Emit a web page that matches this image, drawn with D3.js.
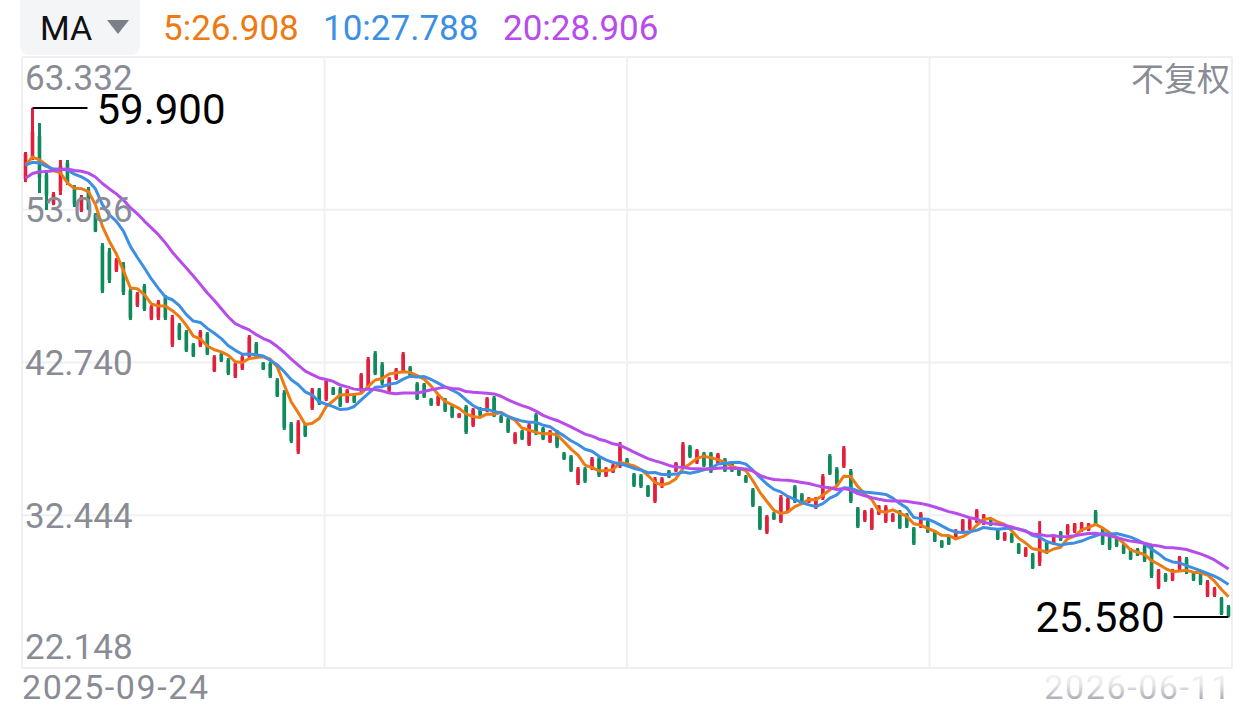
<!DOCTYPE html>
<html>
<head>
<meta charset="utf-8">
<script src="https://cdn.jsdelivr.net/npm/d3@7"></script>
<style>
  body { margin: 0; background: #fff; }
  svg { display: block; }
</style>
</head>
<body>
<div id="chart"></div>
<script>
// first and last date shown under the chart
var dateLabels = ["2025-09-24", "2026-06-11"];

// closes before the first visible candle (only used to seed the moving averages)
var prevClose = [52.1, 52.8, 53.5, 53.2, 54.0, 54.6, 55.3, 54.9, 55.7, 56.8,
  56.4, 55.6, 56.3, 55.9, 56.05, 55.5, 56.2, 55.7, 55.95];

var open = [55.10, 56.60, 58.00, 55.40, 53.45, 54.30, 56.20, 54.50, 53.00, 54.40,
  52.70, 50.60, 50.20, 48.95, 49.30, 47.60, 46.60, 47.90, 45.70, 45.75,
  47.10, 43.95, 45.25, 44.80, 43.95, 43.90, 44.65, 42.20, 43.30, 42.90,
  41.80, 42.35, 43.15, 44.00, 42.70, 42.65, 41.55, 40.70, 38.60, 36.75,
  38.55, 39.65, 40.90, 40.25, 41.00, 40.95, 40.10, 40.60, 40.80, 41.15,
  43.35, 42.60, 40.85, 41.65, 42.15, 42.40, 41.30, 41.25, 40.25, 39.90,
  40.25, 39.80, 39.05, 39.75, 38.50, 39.65, 39.50, 40.35, 39.10, 38.90,
  37.35, 38.10, 37.20, 39.20, 38.30, 37.40, 38.05, 36.60, 36.40, 34.60,
  35.55, 35.60, 36.25, 35.10, 35.35, 35.75, 36.20, 35.20, 35.10, 34.40,
  33.40, 34.40, 35.40, 35.45, 35.75, 37.05, 36.00, 36.60, 36.60, 35.95,
  36.20, 36.00, 35.60, 35.05, 34.15, 32.95, 31.30, 32.55, 32.05, 32.70,
  34.35, 33.85, 33.33, 32.95, 33.60, 36.45, 35.55, 35.75, 35.40, 32.90,
  32.10, 31.55, 32.55, 32.05, 32.05, 32.70, 32.50, 31.55, 31.70, 32.05,
  31.35, 30.70, 31.00, 30.85, 31.40, 31.55, 32.00, 31.90, 32.10, 31.50,
  30.80, 31.15, 30.50, 29.70, 29.80, 29.30, 30.60, 30.50, 31.30, 31.20,
  31.35, 31.40, 31.45, 32.65, 31.55, 31.00, 30.85, 30.45, 30.15, 30.15,
  30.35, 30.30, 27.60, 28.45, 28.10, 28.85, 29.50, 28.55, 28.45, 27.05,
  27.05, 26.85, 26.30];

var high = [56.93, 59.90, 58.88, 55.71, 54.23, 56.39, 56.39, 54.70, 54.03, 54.57,
  52.81, 50.79, 50.46, 49.78, 49.51, 47.76, 47.49, 48.03, 46.61, 46.95,
  47.29, 45.94, 45.40, 44.93, 44.05, 44.93, 44.79, 43.24, 43.38, 43.04,
  42.77, 43.24, 44.59, 44.12, 42.77, 42.77, 41.69, 40.88, 38.73, 38.86,
  38.66, 41.02, 41.02, 41.63, 41.09, 41.09, 40.95, 40.68, 42.03, 43.11,
  43.51, 42.77, 41.76, 42.37, 43.45, 42.50, 41.42, 41.36, 40.35, 40.55,
  40.35, 39.87, 39.33, 39.87, 39.67, 39.74, 40.41, 40.48, 39.20, 39.00,
  38.05, 38.19, 38.66, 39.33, 38.39, 38.19, 38.19, 36.71, 36.50, 35.69,
  35.69, 36.37, 36.37, 35.69, 35.90, 37.38, 36.30, 35.29, 35.22, 34.48,
  35.02, 35.02, 35.49, 36.03, 37.38, 37.18, 36.91, 36.71, 36.71, 36.64,
  36.30, 36.10, 35.69, 35.16, 34.28, 33.07, 32.46, 32.66, 33.81, 33.67,
  34.48, 33.94, 33.67, 33.67, 35.22, 36.57, 35.69, 37.11, 35.56, 33.00,
  32.80, 32.93, 33.13, 33.13, 32.59, 32.80, 32.59, 31.65, 32.66, 32.12,
  31.45, 30.77, 31.11, 31.51, 32.19, 32.19, 32.86, 32.53, 32.19, 31.58,
  31.31, 31.25, 30.57, 30.30, 29.90, 32.05, 30.70, 31.11, 31.38, 31.85,
  31.92, 31.99, 31.92, 32.80, 31.65, 31.11, 30.91, 30.51, 30.24, 30.24,
  30.44, 30.44, 28.82, 28.55, 28.82, 29.70, 29.63, 28.62, 28.55, 28.08,
  27.61, 26.93, 26.39];

var low = [54.90, 56.39, 54.16, 53.02, 53.35, 54.03, 54.70, 53.22, 52.88, 53.02,
  51.53, 47.42, 48.10, 48.84, 47.29, 45.60, 46.48, 46.21, 45.60, 45.60,
  45.60, 43.78, 44.25, 43.45, 43.11, 43.78, 43.24, 42.10, 42.77, 41.89,
  41.69, 42.23, 43.04, 43.04, 42.23, 41.69, 40.41, 38.19, 37.31, 36.57,
  37.72, 39.54, 39.87, 40.14, 40.55, 39.74, 40.01, 40.01, 40.68, 41.02,
  41.89, 41.22, 40.75, 41.56, 42.03, 41.69, 40.21, 40.35, 39.81, 39.81,
  39.40, 38.99, 38.99, 37.92, 38.39, 39.13, 39.40, 39.06, 38.66, 37.99,
  37.24, 37.51, 37.11, 37.85, 37.51, 37.31, 36.97, 36.17, 35.36, 34.48,
  34.62, 35.49, 35.02, 35.02, 35.29, 35.63, 35.69, 34.35, 34.28, 33.67,
  33.27, 34.28, 34.95, 35.36, 35.63, 36.30, 35.90, 35.69, 35.29, 35.83,
  35.36, 35.36, 35.09, 34.62, 33.00, 31.45, 31.18, 32.12, 31.92, 32.59,
  33.27, 33.27, 33.27, 32.86, 33.47, 35.16, 34.48, 35.63, 33.27, 31.58,
  31.99, 31.45, 32.46, 31.92, 31.99, 31.52, 31.58, 30.44, 31.58, 31.25,
  30.64, 30.24, 30.44, 30.77, 31.31, 31.45, 31.92, 31.79, 31.72, 30.77,
  30.71, 30.57, 29.83, 29.63, 28.82, 29.02, 29.83, 30.44, 30.71, 31.11,
  31.25, 31.31, 31.38, 31.72, 30.44, 30.10, 30.30, 29.83, 29.43, 29.70,
  29.29, 28.21, 27.47, 27.95, 28.01, 28.75, 28.48, 28.01, 27.74, 26.93,
  26.93, 25.72, 25.58];

var close = [56.80, 58.30, 55.20, 54.00, 54.10, 56.00, 54.90, 53.40, 53.90, 53.10,
  51.60, 47.60, 48.30, 49.65, 47.50, 45.75, 47.35, 46.35, 46.50, 46.80,
  45.75, 45.75, 44.35, 43.55, 43.20, 44.80, 43.35, 43.10, 42.85, 42.00,
  42.65, 43.10, 44.45, 43.15, 42.30, 41.80, 40.50, 38.35, 37.45, 38.70,
  37.80, 40.90, 40.00, 41.50, 40.60, 39.85, 40.85, 40.10, 41.90, 42.95,
  42.00, 41.35, 41.65, 42.25, 43.30, 41.80, 40.30, 40.45, 39.90, 40.45,
  39.50, 39.10, 39.28, 38.05, 39.55, 39.20, 40.30, 39.15, 38.75, 38.10,
  37.95, 37.60, 38.55, 37.95, 37.60, 38.10, 37.10, 36.25, 35.45, 35.55,
  34.75, 36.25, 35.15, 35.60, 35.80, 37.20, 35.80, 34.45, 34.40, 33.75,
  34.90, 34.90, 35.05, 35.95, 37.20, 36.40, 36.80, 35.80, 35.40, 36.55,
  35.45, 35.45, 35.15, 34.70, 33.10, 31.55, 32.35, 32.20, 33.65, 33.55,
  33.40, 33.35, 33.60, 33.55, 35.05, 35.25, 34.60, 36.95, 33.40, 31.70,
  32.70, 32.80, 33.05, 33.00, 32.50, 31.60, 31.70, 30.55, 32.55, 31.35,
  30.70, 30.30, 30.50, 31.40, 32.10, 32.10, 32.75, 32.45, 31.80, 30.85,
  31.25, 30.65, 29.90, 30.20, 28.90, 30.85, 29.90, 31.00, 30.80, 31.75,
  31.85, 31.90, 31.85, 31.80, 30.55, 30.20, 30.40, 29.90, 29.50, 29.75,
  29.40, 28.35, 28.70, 28.05, 28.70, 29.60, 28.60, 28.10, 27.85, 27.95,
  27.50, 25.80, 25.65];

var yTicks = [63.332, 53.036, 42.740, 32.444, 22.148];
var maPeriods = [5, 10, 20];
var maColors = ["#ee7a12", "#3d8fe4", "#b84cea"];
var maLabels = ["5:26.908", "10:27.788", "20:28.906"];

var svgWidth = 1256;
var svgHeight = 709;
var plot = { left: 22, right: 1232, top: 57, bottom: 668 };
var upColor = "#e3203c";
var downColor = "#0e8a5c";
var gray = "#898c95";

var svg = d3.select("#chart")
  .append("svg")
  .attr("width", svgWidth)
  .attr("height", svgHeight);

var n = close.length;
var xScale = d3.scaleBand()
  .domain(d3.range(n))
  .range([plot.left, plot.right]);
var yScale = d3.scaleLinear()
  .domain([22.148, 63.332])
  .range([plot.bottom, plot.top]);
var xc = i => xScale(i) + xScale.bandwidth() / 2;

// grid
var gridX = d3.scaleLinear().domain([0, 4]).range([plot.left, plot.right]);
svg.append("g").selectAll("line.v").data(d3.range(5)).enter()
  .append("line")
  .attr("x1", d => gridX(d)).attr("x2", d => gridX(d))
  .attr("y1", plot.top).attr("y2", plot.bottom)
  .attr("stroke", "#eff0f4").attr("stroke-width", 2);
svg.append("g").selectAll("line.h").data(yTicks).enter()
  .append("line")
  .attr("x1", plot.left).attr("x2", plot.right)
  .attr("y1", d => yScale(d)).attr("y2", d => yScale(d))
  .attr("stroke", "#eff0f4").attr("stroke-width", 2);

// candles (thin, body and wick nearly the same width at this zoom)
var candles = svg.append("g").selectAll("g").data(d3.range(n)).enter().append("g")
  .attr("fill", i => close[i] >= open[i] ? upColor : downColor)
  .attr("stroke", i => close[i] >= open[i] ? upColor : downColor);
candles.append("line")
  .attr("x1", xc).attr("x2", xc)
  .attr("y1", i => yScale(high[i])).attr("y2", i => yScale(low[i]))
  .attr("stroke-width", 3);
candles.append("rect")
  .attr("x", i => xc(i) - 1.8)
  .attr("width", 3.6)
  .attr("y", i => yScale(Math.max(open[i], close[i])))
  .attr("height", i => Math.max(1, Math.abs(yScale(open[i]) - yScale(close[i]))))
  .attr("stroke", "none");

// moving averages
var allClose = prevClose.concat(close);
var offset = prevClose.length;
maPeriods.forEach(function(p, k) {
  var ma = d3.range(n).map(function(i) {
    return d3.mean(allClose.slice(offset + i - p + 1, offset + i + 1));
  });
  svg.append("path")
    .datum(ma)
    .attr("fill", "none")
    .attr("stroke", maColors[k])
    .attr("stroke-width", 3)
    .attr("stroke-linejoin", "round")
    .attr("d", d3.line().x((d, i) => xc(i)).y(d => yScale(d)));
});

// y labels
svg.append("g").selectAll("text").data(yTicks).enter()
  .append("text")
  .attr("x", 25)
  .attr("y", function(d, i) {
    if (i === 0) return yScale(d) + 33;
    if (i === yTicks.length - 1) return yScale(d) - 9;
    return yScale(d) + 12.5;
  })
  .attr("fill", gray)
  .attr("font-family", "Roboto, sans-serif")
  .attr("font-size", 35)
  .text(d => d.toFixed(3));

// max / min markers
var iMax = d3.maxIndex(high);
var iMin = d3.minIndex(low);
svg.append("line")
  .attr("x1", xc(iMax)).attr("x2", xc(iMax) + 55)
  .attr("y1", yScale(high[iMax])).attr("y2", yScale(high[iMax]))
  .attr("stroke", "#000").attr("stroke-width", 2);
svg.append("text")
  .attr("x", xc(iMax) + 64)
  .attr("y", yScale(high[iMax]) + 16)
  .attr("font-family", "Roboto, sans-serif")
  .attr("font-size", 42)
  .attr("fill", "#000")
  .text(high[iMax].toFixed(3));
svg.append("line")
  .attr("x1", xc(iMin)).attr("x2", xc(iMin) - 55)
  .attr("y1", yScale(low[iMin])).attr("y2", yScale(low[iMin]))
  .attr("stroke", "#000").attr("stroke-width", 2);
svg.append("text")
  .attr("x", xc(iMin) - 64)
  .attr("y", yScale(low[iMin]) + 15)
  .attr("text-anchor", "end")
  .attr("font-family", "Roboto, sans-serif")
  .attr("font-size", 42)
  .attr("fill", "#000")
  .text(low[iMin].toFixed(3));

// header
svg.append("rect")
  .attr("x", 20).attr("y", -10).attr("width", 120).attr("height", 65)
  .attr("rx", 9).attr("fill", "#f4f5f7");
svg.append("text")
  .attr("x", 40).attr("y", 40)
  .attr("font-family", "Roboto, sans-serif")
  .attr("font-size", 34)
  .attr("fill", "#111")
  .text("MA");
svg.append("path")
  .attr("d", "M107,20 L129,20 L118,34 Z")
  .attr("fill", "#7c7f88");
var headerX = [163, 323, 503];
maLabels.forEach(function(t, k) {
  svg.append("text")
    .attr("x", headerX[k]).attr("y", 40)
    .attr("font-family", "Roboto, sans-serif")
    .attr("font-size", 35)
    .attr("fill", maColors[k])
    .text(t);
});

svg.append("text")
  .attr("x", 1230).attr("y", 91)
  .attr("text-anchor", "end")
  .attr("font-family", "'Noto Sans CJK SC', sans-serif")
  .attr("font-size", 33)
  .attr("fill", gray)
  .text("不复权");

// dates
svg.append("text")
  .attr("x", 22).attr("y", 699)
  .attr("font-family", "Roboto, sans-serif")
  .attr("font-size", 34)
  .attr("letter-spacing", 1.6)
  .attr("fill", gray)
  .text(dateLabels[0]);

var grad = svg.append("defs").append("linearGradient")
  .attr("id", "fade").attr("x1", 0).attr("y1", 0).attr("x2", 0).attr("y2", 1);
grad.append("stop").attr("offset", "0%").attr("stop-color", "#fff");
grad.append("stop").attr("offset", "45%").attr("stop-color", "#e4e5e8");
grad.append("stop").attr("offset", "100%").attr("stop-color", "#8c8f97");
svg.append("text")
  .attr("x", 1232).attr("y", 699)
  .attr("text-anchor", "end")
  .attr("font-family", "Roboto, sans-serif")
  .attr("font-size", 34)
  .attr("letter-spacing", 1.6)
  .attr("fill", "url(#fade)")
  .text(dateLabels[1]);
</script>
</body>
</html>
